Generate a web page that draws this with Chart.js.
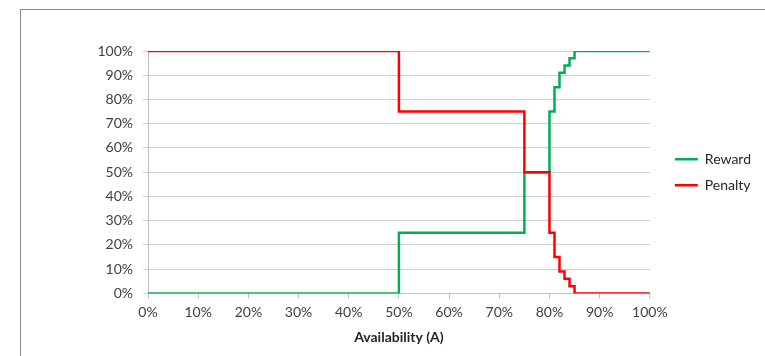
<!DOCTYPE html>
<html>
<head>
<meta charset="utf-8">
<script src="https://cdn.jsdelivr.net/npm/chart.js@4/dist/chart.umd.min.js"></script>
<style>
  html, body { margin: 0; padding: 0; background: #fff; }
  #frame { position: absolute; left: 20px; top: 9px; width: 760px; height: 360px; border-left: 1px solid #8c8c8c; border-top: 1px solid #8c8c8c; }
  #wrap { position: absolute; left: 0; top: 0; width: 765px; height: 356px; }
</style>
</head>
<body>
<div id="frame"></div>
<div id="wrap"><canvas id="myChart" width="765" height="356"></canvas></div>
<script>
// availability (%) where the level changes, and the level from there on
const availability = [0, 50, 75, 80, 81, 82, 83, 84, 85, 100];
const reward = [0, 0.25, 0.5, 0.75, 0.85, 0.91, 0.94, 0.97, 1, 1];
const penalty = [1, 0.75, 0.5, 0.25, 0.15, 0.09, 0.06, 0.03, 0, 0];
const seriesNames = ['Reward', 'Penalty'];

const fontFamily = "Lato, 'Open Sans', sans-serif";

function toPoints(values) {
    return availability.map((a, i) => ({ x: a, y: values[i] }));
}

// move the legend so it sits level with the middle of the plot, a bit further right
const legendShift = {
    id: 'legendShift',
    afterLayout(chart) {
        const lg = chart.legend;
        const mid = (chart.chartArea.top + chart.chartArea.bottom) / 2;
        const d = (lg.top + lg.bottom) / 2 - mid;
        lg.top -= d;
        lg.bottom -= d;
        const dx = (chart.chartArea.right + 25) - (lg.left + 12);
        lg.left += dx;
        lg.right += dx;
    }
};

const ctx = document.getElementById('myChart');

let lineChart = new Chart(ctx, {
    type: 'line',
    data: {
        datasets: [{
            label: seriesNames[0],
            data: toPoints(reward),
            borderColor: 'rgb(0, 176, 80)',
            backgroundColor: 'rgb(0, 176, 80)',
            borderWidth: 2.5,
            pointRadius: 0,
            stepped: 'before',
            order: 1
        }, {
            label: seriesNames[1],
            data: toPoints(penalty),
            borderColor: 'rgb(255, 0, 0)',
            backgroundColor: 'rgb(255, 0, 0)',
            borderWidth: 2.5,
            pointRadius: 0,
            stepped: 'before',
            order: 0
        }]
    },
    options: {
        responsive: false,
        animation: false,
        layout: { padding: { left: 0, right: 17, top: 51, bottom: 6 } },
        plugins: {
            tooltip: { enabled: false },
            legend: {
                position: 'right',
                align: 'center',
                labels: {
                    usePointStyle: true,
                    pointStyle: 'line',
                    pointStyleWidth: 23,
                    boxHeight: 2,
                    padding: 12,
                    color: '#262626',
                    font: { family: fontFamily, size: 14 },
                    sort: (a, b) => a.datasetIndex - b.datasetIndex
                }
            }
        },
        scales: {
            x: {
                type: 'linear',
                min: 0,
                max: 100,
                ticks: {
                    stepSize: 10,
                    color: '#404040',
                    font: { family: fontFamily, size: 14 },
                    padding: 6,
                    maxRotation: 0,
                    callback: v => v + '%'
                },
                grid: { display: true, drawOnChartArea: false, color: '#bfbfbf', tickLength: 5 },
                border: { color: '#bfbfbf' },
                title: {
                    display: true,
                    text: 'Availability (A)',
                    color: '#262626',
                    font: { family: fontFamily, size: 14, weight: 'bold' },
                    padding: { top: 2 }
                }
            },
            y: {
                min: 0,
                max: 1,
                ticks: {
                    stepSize: 0.1,
                    color: '#404040',
                    font: { family: fontFamily, size: 14 },
                    padding: 10,
                    callback: v => Math.round(v * 100) + '%'
                },
                grid: { color: '#d0d0d0', tickLength: 5 },
                border: { color: '#bfbfbf' },
                afterFit: scale => { scale.width = 148; }
            }
        }
    },
    plugins: [legendShift]
});
</script>
</body>
</html>
